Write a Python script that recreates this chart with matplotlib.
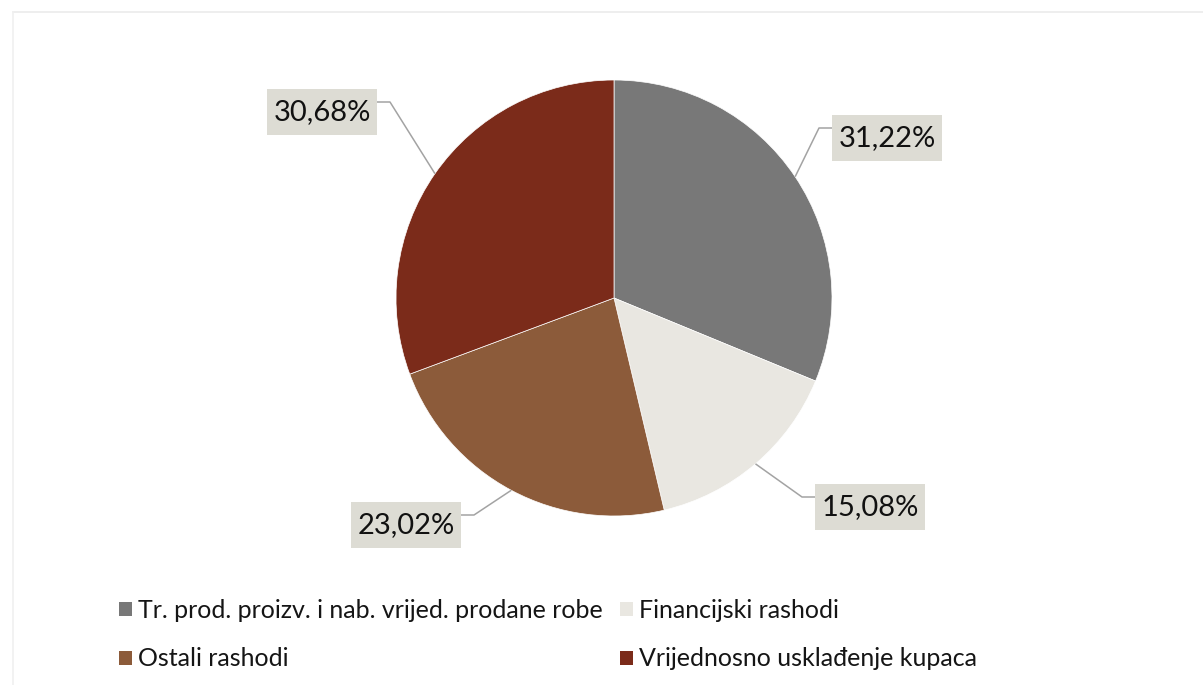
import matplotlib
matplotlib.use("Agg")
import matplotlib.pyplot as plt
from matplotlib.patches import Patch, Rectangle
import numpy as np

categories = ["Tr. prod. proizv. i nab. vrijed. prodane robe", "Financijski rashodi",
              "Ostali rashodi", "Vrijednosno usklađenje kupaca"]
values = [31.22, 15.08, 23.02, 30.68]
labels = ["31,22%", "15,08%", "23,02%", "30,68%"]
colors = ["#787878", "#e9e7e1", "#8c5b3a", "#7b2b1a"]

plt.rcParams['font.family'] = ['Lato', 'DejaVu Sans']

W, H = 1203, 685
fig = plt.figure(figsize=(W / 100, H / 100), dpi=100)
ax = fig.add_axes([0, 0, 1, 1])

cx, cy, R = 614, H - 298, 218
wedges, _ = ax.pie(values, colors=colors, startangle=90, counterclock=False,
                   center=(cx, cy), radius=R,
                   wedgeprops=dict(linewidth=0.5, edgecolor="white"))
ax.set_xlim(0, W)
ax.set_ylim(0, H)
ax.set_aspect('equal')
ax.axis('off')

# faint outer frame (scan border)
ax.plot([13, W], [H - 12, H - 12], color="#ebebeb", lw=1.2)
ax.plot([13, 13], [H - 12, 0], color="#f0f0f0", lw=1.2)

# label boxes (centers in pixel coords, y down) and leader geometry
label_pos = [(887, 138), (870, 507), (406, 525), (322, 112)]
box_w, box_h = 110, 46
for i, (w, lab, (lx, ly)) in enumerate(zip(wedges, labels, label_pos)):
    ang = np.deg2rad((w.theta1 + w.theta2) / 2)
    ax_pt = (cx + R * np.cos(ang), cy + R * np.sin(ang))
    ly_u = H - ly
    side = 1 if lx > cx else -1
    bx = lx - side * box_w / 2
    by = ly_u + 10
    ex = bx - side * 13
    ax.plot([ax_pt[0], ex, bx], [ax_pt[1], by, by], color="#a3a3a3", lw=1.1,
            solid_capstyle='butt')
    ax.add_patch(Rectangle((lx - box_w / 2, ly_u - box_h / 2), box_w, box_h,
                           facecolor="#dddcd4", edgecolor="none", zorder=3))
    ax.text(lx, ly_u, lab, ha="center", va="center", fontsize=21,
            color="#111111", zorder=4)

handles = [Patch(facecolor=colors[k], edgecolor="none") for k in [0, 2, 1, 3]]
leg_labels = [categories[k] for k in [0, 2, 1, 3]]
fig.legend(handles, leg_labels, ncol=2, loc="upper left",
           bbox_to_anchor=(119 / W, 1 - 599 / H), frameon=False,
           fontsize=18, handlelength=0.5, handleheight=0.5,
           handletextpad=0.25, labelspacing=1.02, columnspacing=0.7,
           borderpad=0, borderaxespad=0, labelcolor="#151515")

fig.savefig("out.png", dpi=100, facecolor="white")
